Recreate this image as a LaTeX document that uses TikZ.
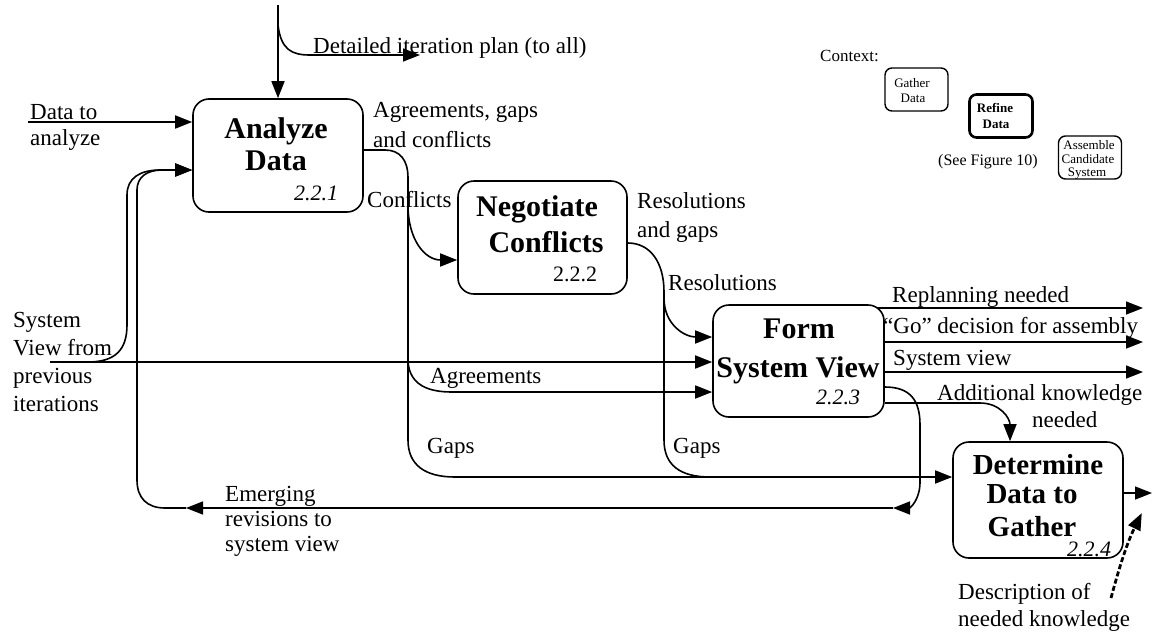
\documentclass[tikz,border=0pt]{standalone}
\usepackage{fontspec}
\setmainfont{Liberation Serif}
\usetikzlibrary{arrows.meta}
\begin{document}
\begin{tikzpicture}[x=1pt,y=-1pt,
  box/.style={draw, line width=1.6pt, rounded corners=16pt, inner sep=0pt},
  cbox/.style={draw, line width=1.4pt, rounded corners=7pt, inner sep=0pt, minimum width=63pt, minimum height=43pt},
  ttl/.style={font=\fontsize{30}{32}\selectfont\bfseries, anchor=base, inner sep=0pt},
  num/.style={font=\fontsize{22}{24}\selectfont\itshape, anchor=base, inner sep=0pt},
  lbl/.style={font=\fontsize{23}{28}\selectfont, anchor=base west, inner sep=0pt, align=left},
  ctx/.style={font=\fontsize{13}{14}\selectfont, anchor=base, inner sep=0pt},
  flow/.style={line width=1.6pt},
  arr/.style={flow, -{Triangle[length=17pt,width=13pt]}},
]
\useasboundingbox (0,0) rectangle (1153,632);

% process boxes
\node[box, minimum width=170pt, minimum height=113pt] (analyze) at (278,155.5) {};
\node[box, minimum width=169pt, minimum height=113pt] (negotiate) at (542.5,237.5) {};
\node[box, minimum width=171pt, minimum height=112pt] (form) at (798.5,361) {};
\node[box, minimum width=170pt, minimum height=116pt] (determine) at (1038,500) {};

\node[ttl] at (276,138) {Analyze};
\node[ttl] at (276,170) {Data};
\node[num] at (316,200) {2.2.1};
\node[ttl] at (537,216) {Negotiate};
\node[ttl] at (546,252) {Conflicts};
\node[num, font=\fontsize{22}{24}\selectfont] at (575,281) {2.2.2};
\node[ttl] at (799,338) {Form};
\node[ttl] at (798,377) {System View};
\node[num] at (838,404) {2.2.3};
\node[ttl, font=\fontsize{29}{31}\selectfont\bfseries] at (1038,474) {Determine};
\node[ttl, font=\fontsize{29}{31}\selectfont\bfseries] at (1032,503) {Data to};
\node[ttl, font=\fontsize{29}{31}\selectfont\bfseries] at (1032,536) {Gather};
\node[num] at (1089,556) {2.2.4};

% context
\node[font=\fontsize{17}{20}\selectfont, anchor=base west, inner sep=0pt] at (820,61) {Context:};
\node[cbox] (gather) at (916.5,89.5) {};
\node[ctx] at (912,87) {Gather};
\node[ctx] at (913,102) {Data};
\node[cbox, line width=2.6pt] (refine) at (1001,116) {};
\node[ctx, font=\fontsize{13}{14}\selectfont\bfseries] at (995,112) {Refine};
\node[ctx, font=\fontsize{13}{14}\selectfont\bfseries] at (996,128) {Data};
\node[font=\fontsize{16}{18}\selectfont, anchor=base west, inner sep=0pt] at (938,165) {(See Figure 10)};
\node[cbox] (assemble) at (1090,157.5) {};
\node[ctx] at (1089,149) {Assemble};
\node[ctx] at (1088,163) {Candidate};
\node[ctx] at (1087,176) {System};

% helper coordinates
\coordinate (y150) at (0,150);
\coordinate (y170) at (0,170);
\coordinate (y243) at (0,243);
\coordinate (y260) at (0,260);
\coordinate (y337) at (0,337);
\coordinate (y387) at (0,387);
\coordinate (y392) at (0,392);
\coordinate (y403) at (0,403);
\coordinate (y477) at (0,477);

% top input and plan output
\coordinate (top) at (278,5);
\coordinate (planfork) at (278,25);
\coordinate (plan) at (420,55);
\draw[arr] (top) -- (analyze.north);
\draw[arr] (planfork) .. controls (281,50) and (292,55) .. (310,55) -- (plan);

% data to analyze
\coordinate (datain) at (28,122);
\draw[arr] (datain) -- (datain -| analyze.west);

% system view from previous iterations
\coordinate (sysin) at (50,362);
\coordinate (sysfork) at (88,362);
\coordinate (ain2) at (analyze.west |- y170);
\draw[arr] (sysin) -- (sysin -| form.west);
\draw[arr] (sysfork) .. controls (115,362) and (127,350) .. (127,325) -- (127,195) .. controls (127,178) and (140,170) .. (160,170) -- (ain2);

% emerging revisions
\coordinate (emA) at (893,508);
\coordinate (emB) at (186,508);
\draw[arr] (form.east |- y387) .. controls (910,387) and (920,400) .. (920,425) -- (920,482) .. controls (920,500) and (910,508) .. (emA);
\draw[arr] (emA) -- (emB);
\draw[arr] (emB) -- (165,508) .. controls (147,508) and (137,498) .. (137,480) -- (137,190) .. controls (137,177) and (147,170) .. (162,170) -- (ain2);

% analyze outputs
\coordinate (fork0) at (408,205);
\coordinate (fork1) at (408,362);
\draw[flow] (analyze.east |- y150) -- (385,150) .. controls (400,150) and (408,160) .. (408,178) -- (fork1);
\draw[arr] (fork0) .. controls (408,240) and (425,260) .. (negotiate.west |- y260);
\draw[arr] (fork1) .. controls (410,385) and (428,392) .. (452,392) -- (form.west |- y392);
\draw[arr] (fork1) -- (408,440) .. controls (408,465) and (425,477) .. (455,477) -- (determine.west |- y477);

% negotiate outputs
\coordinate (fork2) at (664,298);
\draw[flow] (negotiate.east |- y243) .. controls (650,243) and (664,262) .. (664,292) -- (664,440) .. controls (664,465) and (680,477) .. (710,477);
\draw[arr] (fork2) .. controls (664,325) and (685,337) .. (form.west |- y337);

% form outputs
\coordinate (rp) at (1143,308);
\coordinate (go) at (1143,342);
\coordinate (sv) at (1143,372);
\draw[arr] ([xshift=-8pt]form.east |- rp) -- (rp);
\draw[arr] (form.east |- go) -- (go);
\draw[arr] (form.east |- sv) -- (sv);
\draw[arr] (form.east |- y403) -- (980,403) .. controls (1000,403) and (1010,418) .. ([xshift=-28pt]determine.north);

% determine output
\coordinate (dout) at (1152,493);
\draw[arr] (determine.east |- dout) -- (dout);

% needed knowledge (dashed)
\coordinate (desc) at (1111,598);
\draw[arr, line width=2.8pt, dash pattern=on 5pt off 2.5pt] (desc) .. controls (1118,572) and (1126,545) .. ([xshift=18pt,yshift=-13pt]determine.east);

% labels (multi-line labels are placed by the baseline of their last line)
\node[lbl] at (313,53) {Detailed iteration plan (to all)};
\node[lbl, font=\fontsize{23}{26}\selectfont] at (30,145) {Data to\\analyze};
\node[lbl, font=\fontsize{23}{30}\selectfont] at (373,147) {Agreements, gaps\\and conflicts};
\node[lbl] at (367,207) {Conflicts};
\node[lbl, font=\fontsize{23}{29}\selectfont] at (637,237) {Resolutions\\and gaps};
\node[lbl] at (668,290) {Resolutions};
\node[lbl] at (13,411) {System\\View from\\previous\\iterations};
\node[lbl] at (430,383) {Agreements};
\node[lbl] at (427,453) {Gaps};
\node[lbl] at (673,453) {Gaps};
\node[lbl] at (892,302) {Replanning needed};
\node[lbl] at (883,333) {“Go” decision for assembly};
\node[lbl] at (893,365) {System view};
\node[lbl] at (937,400) {Additional knowledge};
\node[lbl] at (1032,427) {needed};
\node[lbl, font=\fontsize{23}{25}\selectfont] at (225,551) {Emerging\\revisions to\\system view};
\node[lbl, font=\fontsize{23}{27}\selectfont] at (958,626) {Description of\\needed knowledge};
\end{tikzpicture}
\end{document}
